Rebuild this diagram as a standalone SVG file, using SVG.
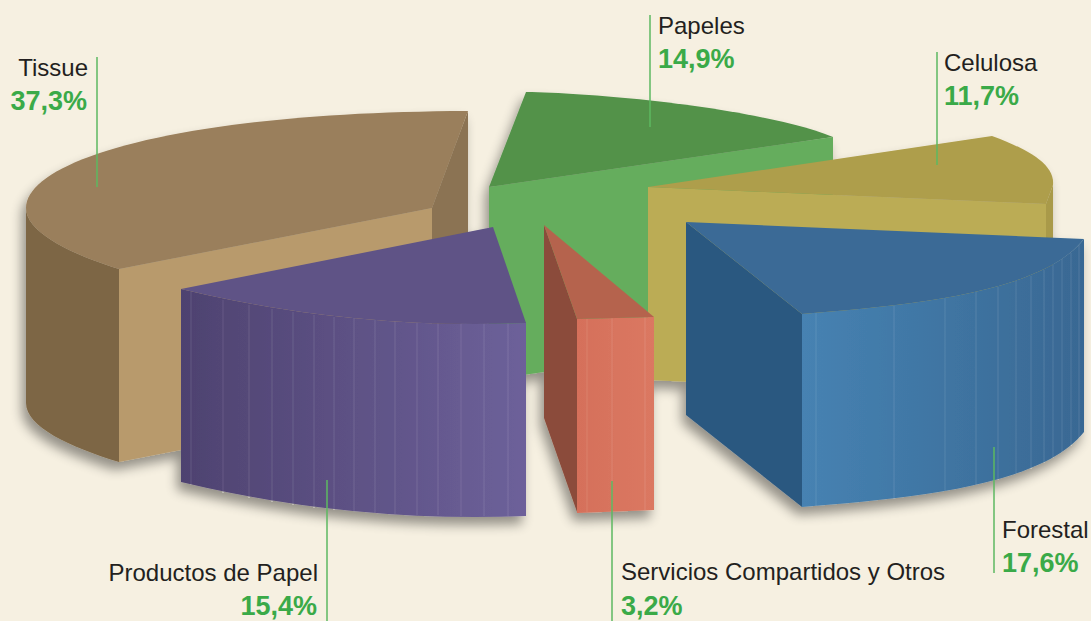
<svg xmlns="http://www.w3.org/2000/svg" width="1091" height="621" viewBox="0 0 1091 621">
<style>
.lbl{font-family:"Liberation Sans",Arial,sans-serif;font-size:24px;fill:#231f20}
.pct{font-family:"Liberation Sans",Arial,sans-serif;font-size:27px;font-weight:bold;fill:#3aaa48}
.lead{stroke:#5cb860;stroke-width:1.5;fill:none}
.st{stroke:#ffffff;stroke-opacity:0.12;stroke-width:1}
</style>
<defs>
<filter id="sh" x="-20%" y="-20%" width="140%" height="150%">
<feGaussianBlur in="SourceAlpha" stdDeviation="6"/>
<feOffset dx="-4" dy="8" result="b"/>
<feComponentTransfer><feFuncA type="linear" slope="0.4"/></feComponentTransfer>
<feMerge><feMergeNode/><feMergeNode in="SourceGraphic"/></feMerge>
</filter>
<linearGradient id="gPur" x1="181" y1="0" x2="526" y2="0" gradientUnits="userSpaceOnUse">
<stop offset="0" stop-color="#4e4270"/><stop offset="1" stop-color="#6d619a"/>
</linearGradient>
<linearGradient id="gBlu" x1="802" y1="0" x2="1084" y2="0" gradientUnits="userSpaceOnUse">
<stop offset="0" stop-color="#4682b2"/><stop offset="1" stop-color="#396893"/>
</linearGradient>
<linearGradient id="gRed" x1="577" y1="0" x2="654" y2="0" gradientUnits="userSpaceOnUse">
<stop offset="0" stop-color="#d5705a"/><stop offset="1" stop-color="#db7862"/>
</linearGradient>
</defs>
<rect width="1091" height="621" fill="#f6f0e1"/>
<g filter="url(#sh)">
<g id="papeles">
<path d="M489,187 L833,137 L833,330 L489,380 Z" fill="#65ad5d"/>
<path d="M526,92 C600,93 760,108 833,137 L489,187 Z" fill="#52924a"/>
</g>
<g id="tissue">
<path d="M432,208 L468,111 L468,304 L432,401 Z" fill="#8b7352"/>
<path d="M119,269 C70,254 26,232 26,208 L26,403 C26,427 70,447 119,462 Z" fill="#7d6644"/>
<path d="M119,269 L432,208 L432,401 L119,462 Z" fill="#b89a6c"/>
<path d="M119,269 C70,254 26,232 26,208 C26,160 180,112 468,111 L432,208 Z" fill="#9a7f5b"/>
</g>
<g id="celulosa">
<path d="M648,187 L1046,204 L1046,397 L648,380 Z" fill="#bbac55"/>
<path d="M1046,204 L1053,185 L1053,378 L1046,397 Z" fill="#a99a48"/>
<path d="M648,187 L992,136 C1030,150 1055,165 1053,185 L1046,204 Z" fill="#ae9e4b"/>
</g>
<g id="productos">
<path d="M181,289 Q352,330 526,323 L526,516 Q352,523 181,482 Z" fill="url(#gPur)"/>
<g class="st">
<line x1="191" y1="292" x2="191" y2="485"/><line x1="223" y1="300" x2="223" y2="493"/>
<line x1="249" y1="305" x2="249" y2="498"/><line x1="272" y1="309" x2="272" y2="502"/>
<line x1="293" y1="312" x2="293" y2="505"/><line x1="314" y1="315" x2="314" y2="508"/>
<line x1="334" y1="317" x2="334" y2="510"/><line x1="354" y1="318" x2="354" y2="511"/>
<line x1="375" y1="320" x2="375" y2="513"/><line x1="395" y1="321" x2="395" y2="514"/>
<line x1="417" y1="322" x2="417" y2="515"/><line x1="438" y1="322" x2="438" y2="515"/>
<line x1="461" y1="323" x2="461" y2="516"/><line x1="484" y1="323" x2="484" y2="516"/>
<line x1="508" y1="323" x2="508" y2="516"/>
</g>
<path d="M181,289 L493,227 L526,323 Q352,330 181,289 Z" fill="#5e5386"/>
</g>
<g id="servicios">
<path d="M544,225 L577,319 L577,512 L544,418 Z" fill="#8b4b3a"/>
<path d="M577,319 L654,317 L654,510 L577,513 Z" fill="url(#gRed)"/>
<g class="st">
<line x1="587" y1="319" x2="587" y2="512"/><line x1="612" y1="318" x2="612" y2="511"/><line x1="645" y1="317" x2="645" y2="510"/>
</g>
<path d="M544,225 L654,317 L577,319 Z" fill="#b5644d"/>
</g>
<g id="forestal">
<path d="M686,222 L802,314 L802,507 L686,415 Z" fill="#2c5880"/>
<path d="M802,314 C900,306 1040,295 1084,239 L1084,432 C1040,488 900,499 802,507 Z" fill="url(#gBlu)"/>
<g class="st">
<line x1="816" y1="313" x2="816" y2="506"/><line x1="894" y1="306" x2="894" y2="499"/>
<line x1="945" y1="298" x2="945" y2="491"/><line x1="976" y1="292" x2="976" y2="485"/>
<line x1="998" y1="287" x2="998" y2="480"/><line x1="1016" y1="281" x2="1016" y2="474"/>
<line x1="1031" y1="276" x2="1031" y2="469"/><line x1="1044" y1="270" x2="1044" y2="463"/>
<line x1="1053" y1="265" x2="1053" y2="458"/><line x1="1062" y1="259" x2="1062" y2="452"/>
<line x1="1071" y1="253" x2="1071" y2="446"/><line x1="1079" y1="245" x2="1079" y2="438"/>
</g>
<path d="M686,222 L1084,239 C1040,295 900,306 802,314 Z" fill="#3a6b96"/>
</g>
</g>
<g id="connectors">
<line class="lead" x1="97" y1="57" x2="97" y2="187"/>
<line class="lead" x1="650" y1="15" x2="650" y2="127"/>
<line class="lead" x1="937" y1="52" x2="937" y2="165"/>
<line class="lead" x1="994" y1="447" x2="994" y2="573"/>
<line class="lead" x1="612" y1="481" x2="612" y2="621"/>
<line class="lead" x1="327" y1="480" x2="327" y2="621"/>
</g>
<g id="labels">
<text class="lbl" x="88" y="76" text-anchor="end">Tissue</text>
<text class="pct" x="87" y="110" text-anchor="end">37,3%</text>
<text class="lbl" x="658" y="34">Papeles</text>
<text class="pct" x="658" y="68">14,9%</text>
<text class="lbl" x="944" y="71">Celulosa</text>
<text class="pct" x="944" y="105">11,7%</text>
<text class="lbl" x="1002" y="538">Forestal</text>
<text class="pct" x="1002" y="572">17,6%</text>
<text class="lbl" x="621" y="580">Servicios Compartidos y Otros</text>
<text class="pct" x="621" y="615">3,2%</text>
<text class="lbl" x="318" y="581" text-anchor="end">Productos de Papel</text>
<text class="pct" x="317" y="615" text-anchor="end">15,4%</text>
</g>
</svg>
